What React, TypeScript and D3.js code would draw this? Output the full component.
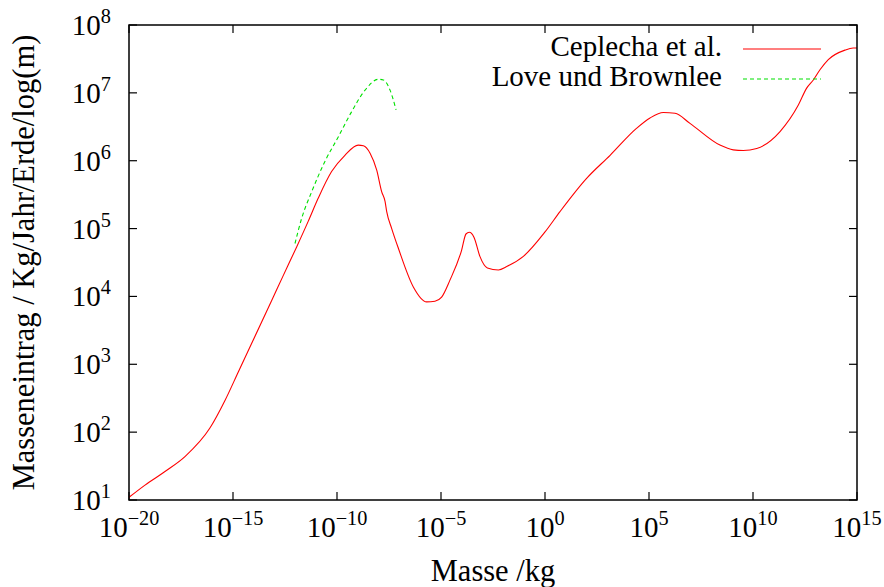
import React from "react";
import * as d3 from "d3";

// log10(mass / kg) and log10(mass influx)
const ceplechaLogMass = [-20, -19.23, -18.27, -17.31, -16.11, -15.38, -14.74, -13.14, -12.58, -11.94, -11.38, -10.9, -10.26, -9.62, -8.98, -8.73, -8.41, -8.09, -7.85, -7.69, -7.61, -7.37, -7.05, -6.33, -5.69, -5.29, -4.97, -4.57, -4.01, -3.8, -3.64, -3.41, -3.13, -2.77, -2.24, -1.84, -1.04, 0.0, 0.72, 2.0, 3.13, 4.41, 5.05, 5.69, 6.25, 6.97, 8.41, 9.05, 9.53, 10.18, 11.3, 12.18, 12.58, 12.9, 13.22, 13.62, 14.42, 14.82, 15];
const ceplechaLogFlux = [1.04, 1.22, 1.42, 1.64, 2.06, 2.47, 2.89, 3.94, 4.31, 4.73, 5.11, 5.45, 5.84, 6.08, 6.23, 6.22, 6.11, 5.86, 5.54, 5.4, 5.25, 5.0, 4.71, 4.14, 3.92, 3.93, 3.99, 4.24, 4.68, 4.92, 4.945, 4.87, 4.59, 4.42, 4.39, 4.44, 4.59, 4.95, 5.25, 5.74, 6.08, 6.48, 6.63, 6.71, 6.7, 6.55, 6.23, 6.16, 6.15, 6.18, 6.43, 6.82, 7.07, 7.19, 7.34, 7.49, 7.63, 7.66, 7.66];

const loveLogMass = [-12.02, -11.7, -11.22, -10.58, -9.94, -9.3, -8.65, -8.01, -7.77, -7.45, -7.16];
const loveLogFlux = [4.78, 5.15, 5.54, 5.99, 6.35, 6.72, 7.04, 7.2, 7.19, 7.04, 6.75];

const xTickExponents = [-20, -15, -10, -5, 0, 5, 10, 15];
const yTickExponents = [1, 2, 3, 4, 5, 6, 7, 8];

const seriesNames = ["Ceplecha et al.", "Love und Brownlee"];
const xLabel = "Masse /kg";
const yLabel = "Masseneintrag / Kg/Jahr/Erde/log(m)";

const W = 884;
const H = 587;
const L = 129, R = 857, T = 25, B = 500;
const FONT = "Liberation Serif, DejaVu Serif, Noto Serif, serif";
const FS = 29;
const FL = 30.5;
const FG = 29;
const txt = { fontFamily: FONT } as React.CSSProperties;

function sup(exp: number) {
  return exp < 0 ? "\u2212" + Math.abs(exp) : String(exp);
}

export default function App() {
  const x = d3.scaleLog().domain([1e-20, 1e15]).range([L, R]);
  const y = d3.scaleLog().domain([1e1, 1e8]).range([B, T]);

  const line = d3
    .line<[number, number]>()
    .x((d) => x(Math.pow(10, d[0])))
    .y((d) => y(Math.pow(10, d[1])))
    .curve(d3.curveMonotoneX);

  const cep: [number, number][] = ceplechaLogMass.map((m, i) => [m, ceplechaLogFlux[i]]);
  const love: [number, number][] = loveLogMass.map((m, i) => [m, loveLogFlux[i]]);

  const tick = 8;

  return (
    <svg
      width={W}
      height={H}
      style={{ position: "absolute", left: 0, top: 0, background: "#fff" }}
    >
      <rect x={0} y={0} width={W} height={H} fill="#fff" />
      <defs>
        <clipPath id="plot">
          <rect x={L} y={T} width={R - L} height={B - T} />
        </clipPath>
      </defs>

      {xTickExponents.map((e) => {
        const px = x(Math.pow(10, e));
        return (
          <g key={"xt" + e}>
            <line x1={px} x2={px} y1={B} y2={B - tick} stroke="#000" strokeWidth={1.2} />
            <line x1={px} x2={px} y1={T} y2={T + tick} stroke="#000" strokeWidth={1.2} />
            <text x={px} y={537} textAnchor="middle" fontSize={FS} fill="#000" style={txt}>
              10
              <tspan fontSize={FS * 0.7} dy={-12}>
                {sup(e)}
              </tspan>
            </text>
          </g>
        );
      })}
      {yTickExponents.map((e) => {
        const py = y(Math.pow(10, e));
        return (
          <g key={"yt" + e}>
            <line x1={L} x2={L + tick} y1={py} y2={py} stroke="#000" strokeWidth={1.2} />
            <line x1={R} x2={R - tick} y1={py} y2={py} stroke="#000" strokeWidth={1.2} />
            <text x={111} y={py + 10} textAnchor="end" fontSize={FS} fill="#000" style={txt}>
              10
              <tspan fontSize={FS * 0.7} dy={-12}>
                {sup(e)}
              </tspan>
            </text>
          </g>
        );
      })}

      <g clipPath="url(#plot)">
        <path d={line(cep) || ""} fill="none" stroke="#ff0000" strokeWidth={1.1} />
        <path d={line(love) || ""} fill="none" stroke="#00e000" strokeWidth={1.1} strokeDasharray="4,3" />
      </g>

      <rect x={L} y={T} width={R - L} height={B - T} fill="none" stroke="#000" strokeWidth={1.5} />

      <text x={722} y={56} textAnchor="end" fontSize={FG} fill="#000" style={txt}>
        {seriesNames[0]}
      </text>
      <line x1={743} x2={821} y1={49} y2={49} stroke="#ff0000" strokeWidth={1.1} />
      <text x={722} y={86} textAnchor="end" fontSize={FG} fill="#000" style={txt}>
        {seriesNames[1]}
      </text>
      <line x1={743} x2={821} y1={79} y2={79} stroke="#00e000" strokeWidth={1.1} strokeDasharray="4,3" />

      <text x={(L + R) / 2} y={581} textAnchor="middle" fontSize={FL} fill="#000" style={txt}>
        {xLabel}
      </text>
      <text
        transform={`translate(34, ${(T + B) / 2}) rotate(-90)`}
        textAnchor="middle"
        fontSize={FL}
        fill="#000"
        style={txt}
      >
        {yLabel}
      </text>
    </svg>
  );
}
